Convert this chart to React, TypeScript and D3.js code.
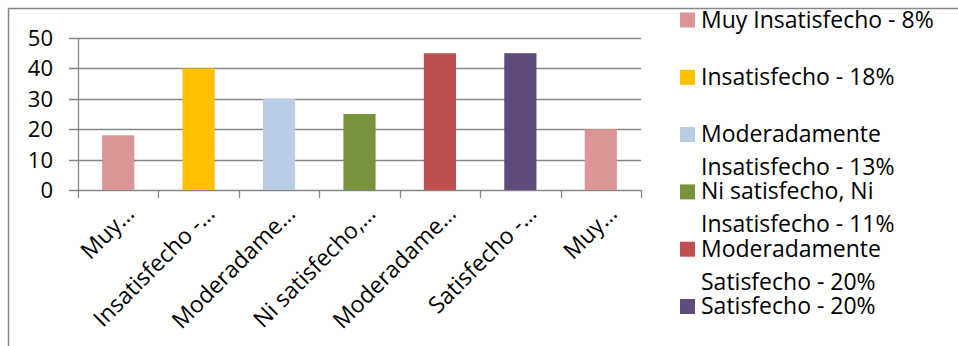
import React from "react";
import * as d3 from "d3";

// Satisfaction categories, bar values and the short labels shown on the axis
const categories = [
  "Muy Insatisfecho - 8%",
  "Insatisfecho - 18%",
  "Moderadamente Insatisfecho - 13%",
  "Ni satisfecho, Ni Insatisfecho - 11%",
  "Moderadamente Satisfecho - 20%",
  "Satisfecho - 20%",
  "Muy Satisfecho - 9%",
];
const values = [18, 40, 30, 25, 45, 45, 20];
const axisLabels = [
  "Muy…",
  "Insatisfecho -…",
  "Moderadame…",
  "Ni satisfecho,…",
  "Moderadame…",
  "Satisfecho -…",
  "Muy…",
];
const colors = ["#D99694", "#FFC000", "#B9CDE5", "#77933C", "#C0504D", "#604A7B", "#D99694"];
const yTicks = [0, 10, 20, 30, 40, 50];
// Legend text, wrapped into lines
const legendLines = [
  ["Muy Insatisfecho - 8%"],
  ["Insatisfecho - 18%"],
  ["Moderadamente", "Insatisfecho - 13%"],
  ["Ni satisfecho, Ni", "Insatisfecho - 11%"],
  ["Moderadamente", "Satisfecho - 20%"],
  ["Satisfecho - 20%"],
];

const W = 958;
const H = 346;
const FONT = "'Open Sans', sans-serif";
const FS = 23;
const GRID = "#868686";

export default function App() {
  const x = d3.scaleBand<string>().domain(categories).range([78, 641]).paddingInner(0.6).paddingOuter(0.3);
  const band = d3.scaleBand<string>().domain(categories).range([78, 641]);
  const y = d3.scaleLinear().domain([0, 50]).range([190, 38]);

  return (
    <svg
      width={W}
      height={H}
      style={{ position: "absolute", left: 0, top: 0, background: "#fff" }}
      fontFamily={FONT}
    >
      <rect x={8.5} y={8.5} width={W + 10} height={H + 10} fill="#fff" stroke={GRID} strokeWidth={1.5} />

      {/* horizontal gridlines and y ticks */}
      {yTicks.map((t) => (
        <g key={t}>
          <line x1={69} x2={641} y1={Math.round(y(t)) + 0.5} y2={Math.round(y(t)) + 0.5} stroke={GRID} strokeWidth={1.3} />
          <text x={53} y={y(t) + 8} textAnchor="end" fontSize={22} fill="#000">
            {t}
          </text>
        </g>
      ))}
      <line x1={78.5} x2={78.5} y1={y(50)} y2={y(0) + 8} stroke={GRID} strokeWidth={1.3} />

      {/* category tick marks */}
      {categories.map((c) => (
        <line
          key={"t" + c}
          x1={Math.round(band(c)! + band.bandwidth()) + 0.5}
          x2={Math.round(band(c)! + band.bandwidth()) + 0.5}
          y1={y(0)}
          y2={y(0) + 8}
          stroke={GRID}
          strokeWidth={1.3}
        />
      ))}

      {/* bars */}
      {categories.map((c, i) => (
        <rect key={"b" + c} x={x(c)} y={y(values[i])} width={x.bandwidth()} height={y(0) - y(values[i])} fill={colors[i]} />
      ))}

      {/* rotated axis labels */}
      {categories.map((c, i) => {
        const cx = band(c)! + band.bandwidth() / 2 + 17.5;
        const cy = 215;
        return (
          <text
            key={"l" + c}
            transform={`translate(${cx},${cy}) rotate(-45)`}
            textAnchor="end"
            fontSize={FS}
            fill="#000"
          >
            {axisLabels[i]}
          </text>
        );
      })}

      {/* legend */}
      {legendLines.map((lines, i) => {
        const base = 27.5 + i * 57.3;
        return (
          <g key={"g" + i}>
            <rect x={680} y={base - 15} width={15} height={15} fill={colors[i]} />
            {lines.map((ln, j) => (
              <text key={j} x={701} y={base + j * 33} fontSize={FS} fill="#000">
                {ln}
              </text>
            ))}
          </g>
        );
      })}
    </svg>
  );
}
